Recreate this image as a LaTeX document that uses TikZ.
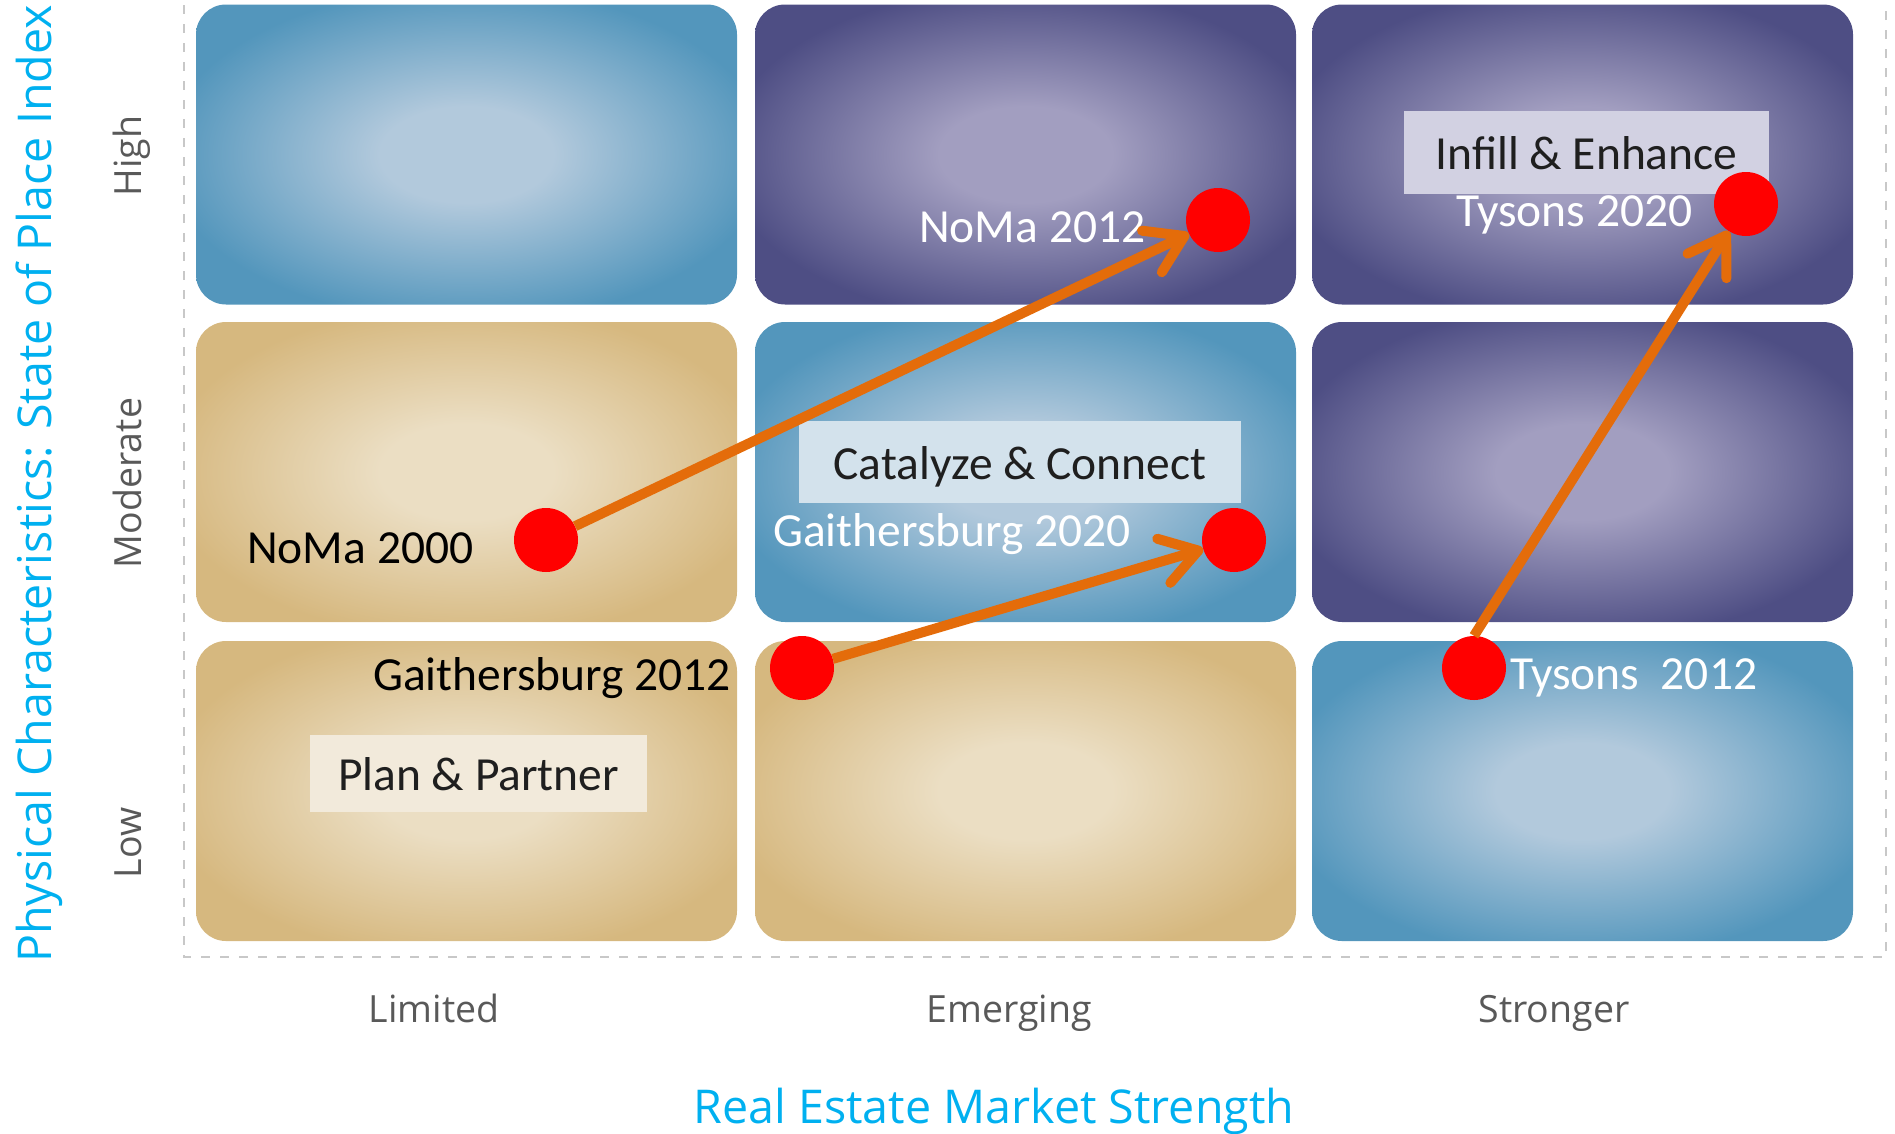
\documentclass[tikz,border=0pt]{standalone}
\usepackage{fontspec}
\setmainfont{Carlito}
\newfontfamily\osans{Open Sans}
\usetikzlibrary{arrows.meta}
\definecolor{bluec}{HTML}{B2C9DC}
\definecolor{bluee}{HTML}{5396BC}
\definecolor{purpc}{HTML}{A29EC0}
\definecolor{purpe}{HTML}{4E4E84}
\definecolor{tanc}{HTML}{EBDEC3}
\definecolor{tane}{HTML}{D6B87F}
\definecolor{arrowc}{HTML}{E46C0A}
\definecolor{titlec}{HTML}{00B0F0}
\definecolor{axisc}{HTML}{595959}
\definecolor{framec}{HTML}{C8C8C8}
\definecolor{ppfill}{HTML}{F2EADB}
\definecolor{ccfill}{HTML}{D3E2EC}
\definecolor{iefill}{HTML}{D2D1E2}
\pgfdeclareradialshading{blueshade}{\pgfpoint{0bp}{0bp}}{color(0bp)=(bluec); color(8bp)=(bluec); color(28bp)=(bluee); color(50bp)=(bluee)}
\pgfdeclareradialshading{purpshade}{\pgfpoint{0bp}{0bp}}{color(0bp)=(purpc); color(8bp)=(purpc); color(28bp)=(purpe); color(50bp)=(purpe)}
\pgfdeclareradialshading{tanshade}{\pgfpoint{0bp}{0bp}}{color(0bp)=(tanc); color(8bp)=(tanc); color(28bp)=(tane); color(50bp)=(tane)}
\begin{document}
\begin{tikzpicture}[x=1pt,y=-1pt,
  cell/.style={shade, rounded corners=30pt, minimum width=541pt, minimum height=300pt, inner sep=0pt, draw=none},
  bluecell/.style={cell, shading=blueshade},
  purpcell/.style={cell, shading=purpshade},
  tancell/.style={cell, shading=tanshade},
  dot/.style={circle, fill=red, minimum size=64pt, inner sep=0pt},
  lbl/.style={font=\fontsize{47.5}{57}\selectfont, inner sep=0pt, anchor=base west},
  tagbox/.style={font=\fontsize{47.5}{57}\selectfont, text=black!88, text height=34pt, text depth=0pt, inner sep=0pt},
  axl/.style={font=\osans\fontsize{37.5}{45}\selectfont, text=axisc, inner sep=0pt, anchor=base},
  ttl/.style={font=\osans\fontsize{46.6}{56}\selectfont, text=titlec, inner sep=0pt, anchor=base},
  arr/.style={draw=arrowc, line width=10pt, -{Straight Barb[length=36pt, width=46pt, round]}},
  frame/.style={draw=framec, line width=2.5pt, dash pattern=on 9pt off 10pt}
]
\useasboundingbox (0,0) rectangle (1895,1133);
% frame
\draw[frame] (184,5) -- (184,957) -- (1886,957) -- (1886,5);
% cells
\node[bluecell] (c11) at (466.5,154.5) {};
\node[purpcell] (c12) at (1025.5,154.5) {};
\node[purpcell] (c13) at (1582.5,154.5) {};
\node[tancell] (c21) at (466.5,472) {};
\node[bluecell] (c22) at (1025.5,472) {};
\node[purpcell] (c23) at (1582.5,472) {};
\node[tancell] (c31) at (466.5,791) {};
\node[tancell] (c32) at (1025.5,791) {};
\node[bluecell] (c33) at (1582.5,791) {};
% strategy boxes
\node[tagbox, fill=ppfill, minimum width=337pt, minimum height=77pt] (pp) at (478.5,773.5) {Plan \& Partner};
\node[tagbox, fill=ccfill, minimum width=442pt, minimum height=82pt] (cc) at (1020,462) {Catalyze \& Connect};
\node[tagbox, fill=iefill, minimum width=365pt, minimum height=83pt] (ie) at (1586.5,152.5) {Infill \& Enhance};
% labels
\node[lbl, text=black] (l1) at (247,563) {NoMa 2000};
\node[lbl, text=white] (l2) at (919,242) {NoMa 2012};
\node[lbl, text=black] (l3) at (373,690) {Gaithersburg 2012};
\node[lbl, text=white] (l4) at (773,546) {Gaithersburg 2020};
\node[lbl, text=white] (l5) at (1510,689) {Tysons\ \ 2012};
\node[lbl, text=white] (l6) at (1456,226) {Tysons 2020};
% dots
\node[dot] (noma00) at (546,540) {};
\node[dot] (noma12) at (1218,220) {};
\node[dot] (gai12) at (802,668) {};
\node[dot] (gai20) at (1234,540) {};
\node[dot] (tys12) at (1474,668) {};
\node[dot] (tys20) at (1746,204) {};
% arrows
\draw[arr] (noma00) -- (noma12);
\draw[arr] (gai12) -- (gai20);
\draw[arr] (tys12.north) -- (tys20);
% axes
\node[axl, rotate=90] (ahigh) at (141,156) {High};
\node[axl, rotate=90] (amod) at (141,483) {Moderate};
\node[axl, rotate=90] (alow) at (141,843) {Low};
\node[axl] (alim) at (434,1022) {Limited};
\node[axl] (aeme) at (1009,1022) {Emerging};
\node[axl] (astr) at (1554,1022) {Stronger};
\node[ttl] (xt) at (994,1123) {Real Estate Market Strength};
\node[ttl, rotate=90] (yt) at (51,484) {Physical Characteristics: State of Place Index};
\end{tikzpicture}
\end{document}
